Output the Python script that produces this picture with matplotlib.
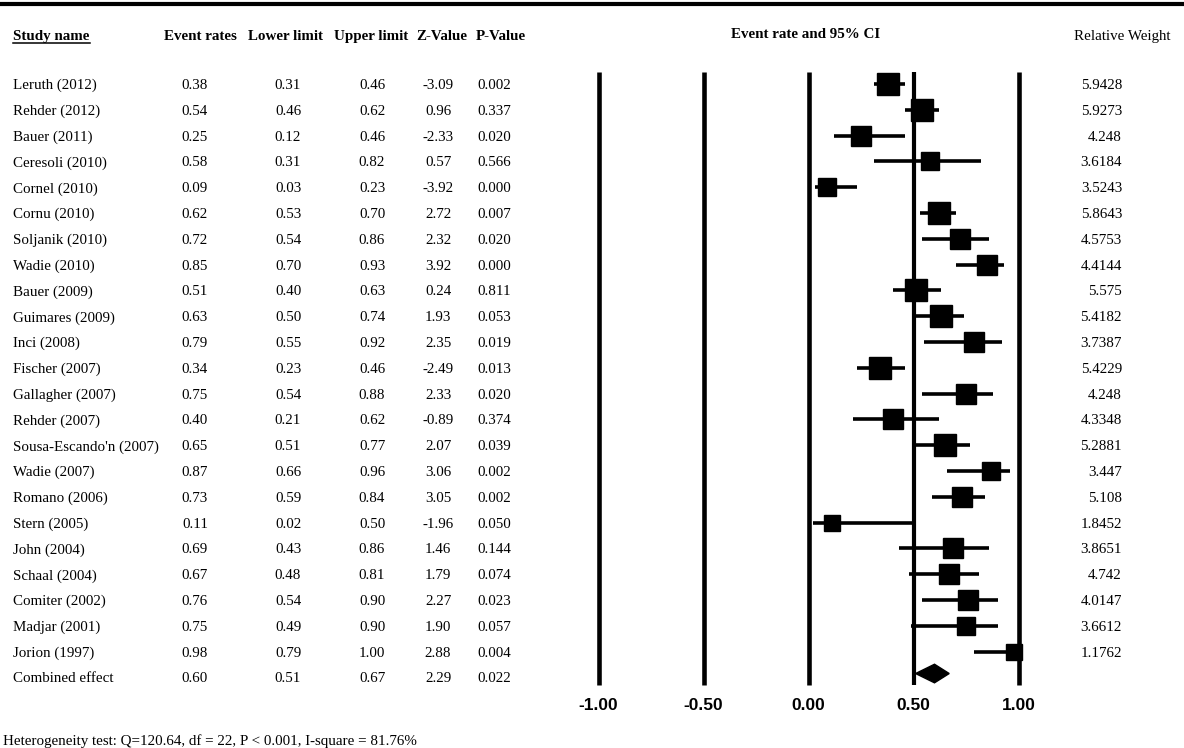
import matplotlib
matplotlib.use("Agg")
import matplotlib.pyplot as plt
import matplotlib.transforms as mtransforms

studies = ["Leruth (2012)", "Rehder (2012)", "Bauer (2011)", "Ceresoli (2010)",
           "Cornel (2010)", "Cornu (2010)", "Soljanik (2010)", "Wadie (2010)",
           "Bauer (2009)", "Guimares (2009)", "Inci (2008)", "Fischer (2007)",
           "Gallagher (2007)", "Rehder (2007)", "Sousa-Escando'n (2007)", "Wadie (2007)",
           "Romano (2006)", "Stern (2005)", "John (2004)", "Schaal (2004)",
           "Comiter (2002)", "Madjar (2001)", "Jorion (1997)"]
event_rate = [0.38, 0.54, 0.25, 0.58, 0.09, 0.62, 0.72, 0.85, 0.51, 0.63, 0.79, 0.34,
              0.75, 0.40, 0.65, 0.87, 0.73, 0.11, 0.69, 0.67, 0.76, 0.75, 0.98]
lower = [0.31, 0.46, 0.12, 0.31, 0.03, 0.53, 0.54, 0.70, 0.40, 0.50, 0.55, 0.23,
         0.54, 0.21, 0.51, 0.66, 0.59, 0.02, 0.43, 0.48, 0.54, 0.49, 0.79]
upper = [0.46, 0.62, 0.46, 0.82, 0.23, 0.70, 0.86, 0.93, 0.63, 0.74, 0.92, 0.46,
         0.88, 0.62, 0.77, 0.96, 0.84, 0.50, 0.86, 0.81, 0.90, 0.90, 1.00]
z_value = [-3.09, 0.96, -2.33, 0.57, -3.92, 2.72, 2.32, 3.92, 0.24, 1.93, 2.35, -2.49,
           2.33, -0.89, 2.07, 3.06, 3.05, -1.96, 1.46, 1.79, 2.27, 1.90, 2.88]
p_value = ["0.002", "0.337", "0.020", "0.566", "0.000", "0.007", "0.020", "0.000",
           "0.811", "0.053", "0.019", "0.013", "0.020", "0.374", "0.039", "0.002",
           "0.002", "0.050", "0.144", "0.074", "0.023", "0.057", "0.004"]
rel_weight = ["5.9428", "5.9273", "4.248", "3.6184", "3.5243", "5.8643", "4.5753",
              "4.4144", "5.575", "5.4182", "3.7387", "5.4229", "4.248", "4.3348",
              "5.2881", "3.447", "5.108", "1.8452", "3.8651", "4.742", "4.0147",
              "3.6612", "1.1762"]
combined = {"name": "Combined effect", "er": 0.60, "lo": 0.51, "hi": 0.67,
            "z": 2.29, "p": "0.022"}
ticks = [-1.0, -0.5, 0.0, 0.5, 1.0]
heterogeneity = "Heterogeneity test: Q=120.64, df = 22, P < 0.001, I-square = 81.76%"

W, H = 1184, 748
fig = plt.figure(figsize=(W / 100, H / 100), dpi=100)
ax = fig.add_axes([0, 0, 1, 1])
ax.axis("off")

# pixel layout: x=0 at 808px, 210 px per unit; rows start at 84px, 25.8 px apart
x0, ppu = 808.5, 210.0
y0, step = 84.0, 25.8
ax.set_xlim(-x0 / ppu, (W - x0) / ppu)
ax.set_ylim((H - y0) / step, -y0 / step)

def px(xp):
    return xp / W

tr = mtransforms.blended_transform_factory(ax.transAxes, ax.transData)
serif = "Liberation Serif"
fs = 10.8
va = "center_baseline"

# top rule
ax.plot([0.0, 1.0], [(4 - y0) / step] * 2, transform=tr, color="black", lw=3,
        solid_capstyle="butt", clip_on=False)

# headers
hy = (35 - y0) / step
ax.text(px(13), hy, "Study name", transform=tr, family=serif, fontsize=fs,
        fontweight="bold", va=va, ha="left")
ax.plot([px(13), px(90)], [hy + 0.3] * 2, transform=tr, color="black", lw=1.1)
col_x = [200, 286, 371, 442, 501]
headers = ["Event rates", "Lower limit", "Upper limit", "Z-Value", "P-Value"]
for cx, h in zip(col_x, headers):
    ax.text(px(cx), hy, h, transform=tr, family=serif, fontsize=fs,
            fontweight="bold", va=va, ha="center")
ax.text(px(806), (33 - y0) / step, "Event rate and 95% CI", transform=tr,
        family=serif, fontsize=fs, fontweight="bold", va=va, ha="center")
ax.text(px(1122), hy, "Relative Weight", transform=tr, family=serif,
        fontsize=fs, va=va, ha="center")

val_x = [195, 288, 372, 438, 494]

# vertical reference lines
for t in ticks:
    lw = 3.0 if t == 0.5 else 3.3
    ax.plot([t, t], [(72 - y0) / step, (685 - y0) / step], color="black", lw=lw,
            solid_capstyle="butt", zorder=2)
    ax.text(t, (704 - y0) / step, f"{t:.2f}", family="Liberation Sans",
            fontsize=12.5, fontweight="bold", ha="center", va=va)

for i, name in enumerate(studies):
    ax.text(px(13), i, name, transform=tr, family=serif, fontsize=fs,
            va=va, ha="left")
    vals = [f"{event_rate[i]:.2f}", f"{lower[i]:.2f}", f"{upper[i]:.2f}",
            f"{z_value[i]:.2f}", p_value[i]]
    for cx, v in zip(val_x, vals):
        ax.text(px(cx), i, v, transform=tr, family=serif, fontsize=fs,
                va=va, ha="center")
    ax.text(px(1122), i, rel_weight[i], transform=tr, family=serif, fontsize=fs,
            va=va, ha="right")
    ax.plot([lower[i], upper[i]], [i, i], color="black", lw=2.6,
            solid_capstyle="butt", zorder=3)
    size_px = 14 + 1.35 * float(rel_weight[i])
    ax.plot(event_rate[i], i, marker="s", color="black",
            markersize=size_px * 0.72, zorder=4)

# combined effect row
ci = len(studies)
ax.text(px(13), ci, combined["name"], transform=tr, family=serif, fontsize=fs,
        va=va, ha="left")
cvals = [f"{combined['er']:.2f}", f"{combined['lo']:.2f}", f"{combined['hi']:.2f}",
         f"{combined['z']:.2f}", combined["p"]]
for cx, v in zip(val_x, cvals):
    ax.text(px(cx), ci, v, transform=tr, family=serif, fontsize=fs,
            va=va, ha="center")
dh = 0.36
yc = ci - 0.15
ax.fill([combined["lo"], combined["er"], combined["hi"], combined["er"]],
        [yc, yc - dh, yc, yc + dh], color="black", zorder=4)

ax.text(px(3), (740 - y0) / step, heterogeneity, transform=tr, family=serif,
        fontsize=fs, va=va, ha="left")

fig.savefig("out.png", dpi=100)
